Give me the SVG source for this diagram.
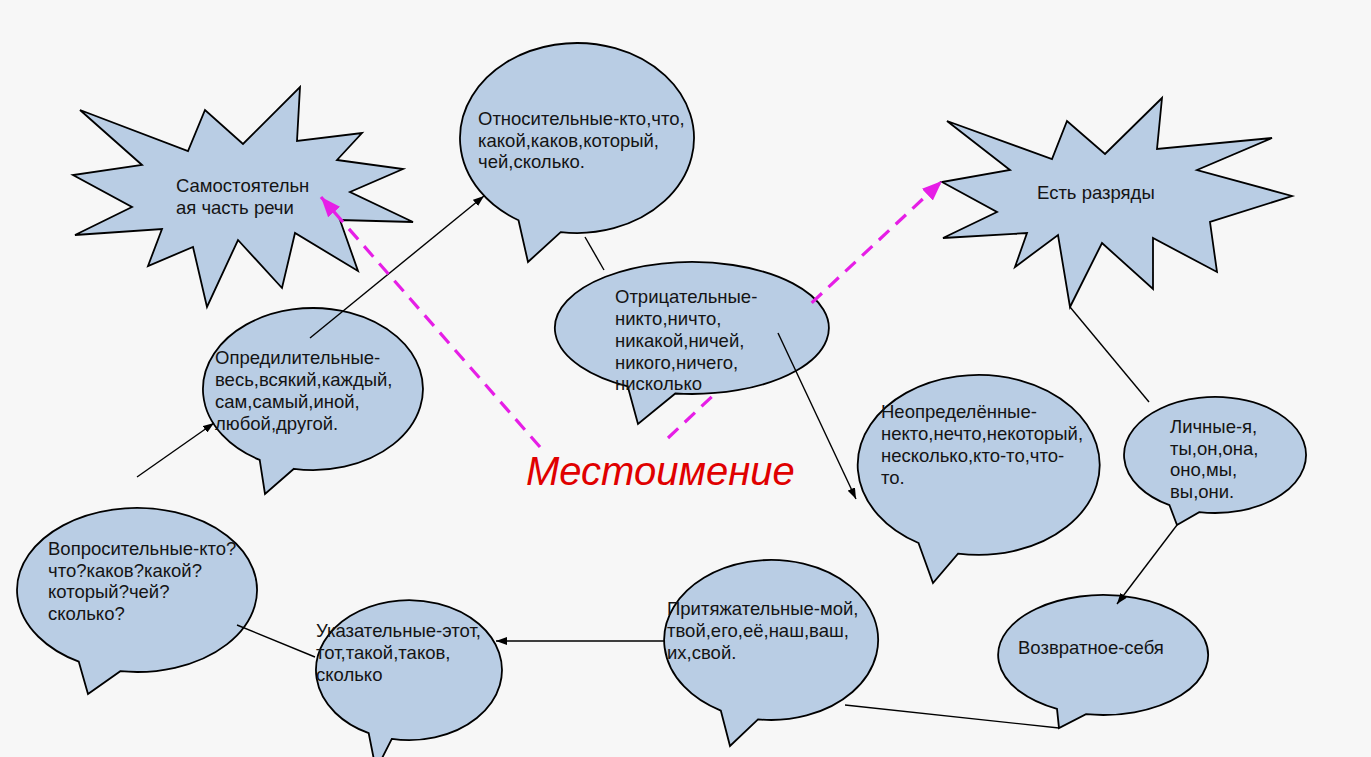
<svg xmlns="http://www.w3.org/2000/svg" width="1371" height="757" viewBox="0 0 1371 757">
<style>
.shape{fill:#b9cde4;stroke:#000;stroke-width:1.8;stroke-linejoin:miter}
.t{font-family:"Liberation Sans",Arial,sans-serif;font-size:18.5px;fill:#141414}
.ln{stroke:#000;stroke-width:1.4;fill:none}
.pk{stroke:#e61ee6;stroke-width:3.2;fill:none;stroke-dasharray:14,9}
.title{font-family:"Liberation Sans",Arial,sans-serif;font-size:40px;font-style:italic;fill:#e00000}
</style>
<defs>
<marker id="ah" markerUnits="userSpaceOnUse" markerWidth="11" markerHeight="8" refX="11" refY="4" orient="auto"><path d="M0,0 L11,4 L0,8 z" fill="#000"/></marker>
<marker id="ahp" markerUnits="userSpaceOnUse" markerWidth="20" markerHeight="16" refX="20" refY="8" orient="auto"><path d="M0,0 L20,8 L0,16 z" fill="#e61ee6"/></marker>
</defs>
<rect width="1371" height="757" fill="#f7f7f7"/>

<g id="samostoyatelnaya">
<polygon class="shape" points="80,110 188,151 205,110 243,144 300,87 297,141 362,133 337,160 403,169 350,192 413,222 340,220 358,271 295,233 282,288 238,240 207,307 193,247 148,266 162,229 75,235 132,207 73,175 142,165"/>
<text class="t" x="176" y="192">Самостоятельн</text>
<text class="t" x="176" y="214">ая часть речи</text>
</g>

<g id="otnositelnye">
<path class="shape" d="M518.5,220.3 L528,262 L560.7,232.1 A117,95 0 1 0 518.5,220.3 Z"/>
<text class="t" x="478" y="125">Относительные-кто,что,</text>
<text class="t" x="478" y="147">какой,каков,который,</text>
<text class="t" x="478" y="168">чей,сколько.</text>
</g>

<g id="est-razryady">
<polygon class="shape" points="947,121 1052,159 1067,121 1105,154 1162,98 1157,149 1272,138 1197,170 1292,196 1210,222 1217,272 1153,238 1153,289 1102,243 1070,307 1058,235 1015,267 1027,233 943,238 997,212 942,182 1010,170"/>
<text class="t" x="1037" y="199">Есть разряды</text>
</g>

<g id="otritsatelnye">
<path class="shape" d="M627.7,386.3 L638,424 L675.3,393.5 A137,66 0 1 0 627.7,386.3 Z"/>
<text class="t" x="615" y="303">Отрицательные-</text>
<text class="t" x="615" y="325">никто,ничто,</text>
<text class="t" x="615" y="347">никакой,ничей,</text>
<text class="t" x="615" y="369">никого,ничего,</text>
<text class="t" x="615" y="390">нисколько</text>
</g>

<g id="opredelitelnye">
<path class="shape" d="M259.7,459.9 L265,494 L293.9,468.8 A110,81 0 1 0 259.7,459.9 Z"/>
<text class="t" x="215" y="364">Опредилительные-</text>
<text class="t" x="215" y="386">весь,всякий,каждый,</text>
<text class="t" x="215" y="408">сам,самый,иной,</text>
<text class="t" x="215" y="430">любой,другой.</text>
</g>

<g id="neopredelennye">
<path class="shape" d="M918.5,543 L933,583 L958,553.6 A121,90 0 1 0 918.5,543 Z"/>
<text class="t" x="881" y="418">Неопределённые-</text>
<text class="t" x="881" y="440">некто,нечто,некоторый,</text>
<text class="t" x="881" y="462">несколько,кто-то,что-</text>
<text class="t" x="881" y="484">то.</text>
</g>

<g id="lichnye">
<path class="shape" d="M1169.5,505.2 L1177,525 L1199.2,512.1 A91,58 0 1 0 1169.5,505.2 Z"/>
<text class="t" x="1170" y="433">Личные-я,</text>
<text class="t" x="1170" y="455">ты,он,она,</text>
<text class="t" x="1170" y="476">оно,мы,</text>
<text class="t" x="1170" y="498">вы,они.</text>
</g>

<g id="voprositelnye">
<path class="shape" d="M78.8,661.7 L88,694 L120.3,671.2 A120,82 0 1 0 78.8,661.7 Z"/>
<text class="t" x="48" y="555">Вопросительные-кто?</text>
<text class="t" x="48" y="577">что?каков?какой?</text>
<text class="t" x="48" y="598">который?чей?</text>
<text class="t" x="48" y="620">сколько?</text>
</g>

<g id="ukazatelnye">
<path class="shape" d="M368.7,733.2 L376,770 L391.8,738.9 A93,70 0 1 0 368.7,733.2 Z"/>
<text class="t" x="316" y="637">Указательные-этот,</text>
<text class="t" x="316" y="659">тот,такой,таков,</text>
<text class="t" x="316" y="681">сколько</text>
</g>

<g id="prityazhatelnye">
<path class="shape" d="M720.8,710.6 L730,746 L758,719.4 A107,80 0 1 0 720.8,710.6 Z"/>
<text class="t" x="667" y="615">Притяжательные-мой,</text>
<text class="t" x="667" y="637">твой,его,её,наш,ваш,</text>
<text class="t" x="667" y="659">их,свой.</text>
</g>

<g id="vozvratnoe">
<path class="shape" d="M1057,708.9 L1059,728 L1086,714.2 A105,60 0 1 0 1057,708.9 Z"/>
<text class="t" x="1018" y="654">Возвратное-себя</text>
</g>

<g id="mestoimenie">
<text class="title" x="526" y="485">Местоимение</text>
</g>

<g id="connectors">
<line class="ln" x1="310" y1="338" x2="484" y2="196" marker-end="url(#ah)"/>
<line class="ln" x1="585" y1="237" x2="604" y2="270"/>
<line class="ln" x1="778" y1="333" x2="856" y2="499" marker-end="url(#ah)"/>
<line class="ln" x1="1070" y1="307" x2="1149" y2="402"/>
<line class="ln" x1="1177" y1="525" x2="1117" y2="604" marker-end="url(#ah)"/>
<line class="ln" x1="1059" y1="728" x2="845" y2="705"/>
<line class="ln" x1="665" y1="641" x2="496" y2="641" marker-end="url(#ah)"/>
<line class="ln" x1="315" y1="657" x2="237" y2="625"/>
<line class="ln" x1="137" y1="477" x2="214" y2="423" marker-end="url(#ah)"/>
<line class="pk" x1="540" y1="447" x2="321" y2="197" marker-end="url(#ahp)"/>
<line class="pk" x1="668" y1="438" x2="714.6" y2="394.1"/>
<line class="pk" x1="811.7" y1="302.8" x2="942" y2="181" marker-end="url(#ahp)"/>
</g>
</svg>
